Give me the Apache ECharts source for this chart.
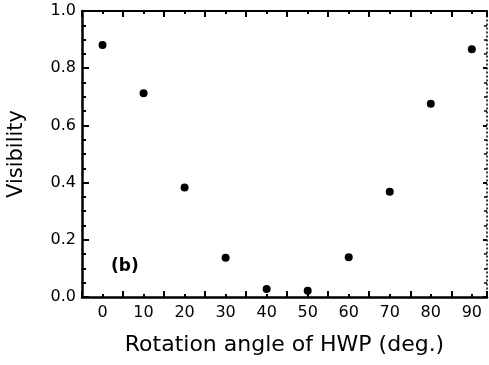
<!DOCTYPE html>
<html><head><meta charset="utf-8">
<script src="https://cdn.jsdelivr.net/npm/echarts@6/dist/echarts.min.js"></script>
<style>html,body{margin:0;padding:0;background:#fff}#c{width:489px;height:365px}</style>
</head><body><div id="c"></div>
<script>
const angles = [0, 10, 20, 30, 40, 50, 60, 70, 80, 90];
const visibility = [0.881, 0.712, 0.383, 0.137, 0.028, 0.022, 0.139, 0.368, 0.676, 0.866];
const xTitle = 'Rotation angle of HWP (deg.)';
const yTitle = 'Visibility';
const panelLabel = '(b)';

const F = 'DejaVu Sans';
const xMin = -5, xMax = 93.7;
function xAx(pos, interval, tickLen, showLabel, showLine, lineType, width) {
  return {
    type: 'value', position: pos, min: xMin, max: xMax, interval: interval,
    splitLine: {show: false},
    axisLine: {show: showLine, onZero: false, lineStyle: {color: '#000', width: width || 2, type: lineType || 'solid'}},
    axisTick: {show: true, inside: true, length: tickLen, lineStyle: {color: '#000', width: 2}},
    axisLabel: {show: showLabel, color: '#000', fontFamily: F, fontSize: 16, margin: 8,
      formatter: v => (Math.abs(v % 10) < 1e-9 && v >= 0 && v <= 90) ? String(v) : ''},
    name: showLabel ? xTitle : '', nameLocation: 'middle', nameGap: 37,
    nameTextStyle: {color: '#000', fontFamily: F, fontSize: 22}
  };
}
const chart = echarts.init(document.getElementById('c'));
chart.setOption({
  animation: false,
  grid: {left: 82, right: 2, top: 11, bottom: 68, containLabel: false, outerBoundsMode: 'none'},
  title: {text: panelLabel, left: 106, top: 253,
    textStyle: {fontFamily: F, fontSize: 17, fontWeight: 'bold', color: '#000'}},
  xAxis: [
    xAx('bottom', 5, 3, true, true, 'solid', 2.5),
    xAx('bottom', 10, 6, false, false),
    xAx('top', 5, 3, false, true, 'solid', 2),
    xAx('top', 10, 6, false, false)
  ],
  yAxis: [
    {type: 'value', position: 'left', min: 0, max: 1, interval: 0.2,
     splitLine: {show: false},
     axisLine: {show: true, onZero: false, lineStyle: {color: '#000', width: 2.5}},
     axisTick: {inside: true, length: 7, lineStyle: {color: '#000', width: 2}},
     minorTick: {show: true, splitNumber: 4, length: 4, lineStyle: {color: '#000', width: 2}},
     axisLabel: {color: '#000', fontFamily: F, fontSize: 16, margin: 6, formatter: v => v.toFixed(1)},
     name: yTitle, nameLocation: 'middle', nameGap: 55,
     nameTextStyle: {color: '#000', fontFamily: F, fontSize: 21}},
    {type: 'value', position: 'right', min: 0, max: 1, interval: 0.2,
     splitLine: {show: false},
     axisLine: {show: true, onZero: false, lineStyle: {color: '#000', width: 1.5, type: [1, 3]}},
     axisTick: {inside: true, length: 4, lineStyle: {color: '#000', width: 2}},
     minorTick: {show: true, splitNumber: 4, length: 3, lineStyle: {color: '#000', width: 1.5}},
     axisLabel: {show: false}}
  ],
  series: [{
    type: 'scatter', xAxisIndex: 0, yAxisIndex: 0,
    symbol: 'circle', symbolSize: 8,
    itemStyle: {color: '#000', opacity: 1},
    data: angles.map((a, i) => [a, visibility[i]])
  }]
});
</script></body></html>
